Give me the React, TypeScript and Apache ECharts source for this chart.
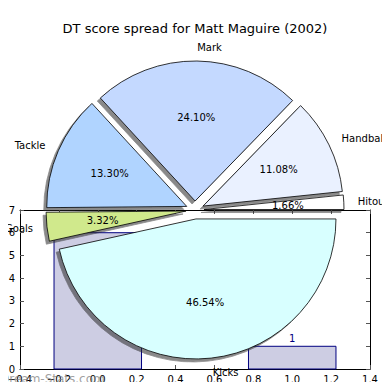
import React, { useEffect, useRef } from "react";
import * as echarts from "echarts";

const titleText = "DT score spread for Matt Maguire (2002)";
const categories = ["Kicks", "Goals", "Tackle", "Mark", "Handballs", "Hitout"];
const percentages = [46.54, 3.32, 13.3, 24.1, 11.08, 1.66];
const sliceColors = ["#d8ffff", "#d0e98c", "#b0d4ff", "#c4d9ff", "#eaf1ff", "#ffffff"];
const barPositions = [0, 1];
const barHeights = [6, 1];
const barHalfWidth = 0.225;
const xMin = -0.4;
const xMax = 1.4;
const xStep = 0.2;
const yMin = 0;
const yMax = 7;
const yStep = 1;

const FONT = "DejaVu Sans";

export default function App() {
  const ref = useRef<HTMLDivElement>(null);
  useEffect(() => {
    if (!ref.current) return;
    const chart = echarts.init(ref.current, undefined, { renderer: "svg" });
    const pieData = categories.map((name, i) => ({
      name,
      value: percentages[i],
      selected: true,
      itemStyle: { color: sliceColors[i] },
    }));
    const tickFmt = (v: number) => (v < 0 ? "\u2212" : "") + Math.abs(v).toFixed(1);
    const axisCommon = {
      axisLine: { show: true, onZero: false, lineStyle: { color: "#000", width: 1 } },
      axisTick: { show: true, inside: true, length: 4, lineStyle: { color: "#555", width: 1 } },
      splitLine: { show: false },
    };
    chart.setOption({
      animation: false,
      textStyle: { fontFamily: FONT },
      title: {
        text: titleText,
        left: "center",
        top: 17,
        textStyle: { fontSize: 13, fontWeight: "normal", color: "#000", fontFamily: FONT },
      },
      grid: { left: 20, right: 20, top: 210, bottom: 21, containLabel: false },
      xAxis: [
        {
          type: "value",
          min: xMin,
          max: xMax,
          interval: xStep,
          position: "bottom",
          ...axisCommon,
          axisLabel: { show: true, margin: 5, fontSize: 10, color: "#000", fontFamily: FONT, formatter: tickFmt },
        },
        {
          type: "value",
          min: xMin,
          max: xMax,
          interval: xStep,
          position: "top",
          ...axisCommon,
          axisLabel: { show: false },
        },
      ],
      yAxis: [
        {
          type: "value",
          min: yMin,
          max: yMax,
          interval: yStep,
          position: "left",
          ...axisCommon,
          axisLabel: { show: true, margin: 5, fontSize: 10, color: "#000", fontFamily: FONT },
        },
        {
          type: "value",
          min: yMin,
          max: yMax,
          interval: yStep,
          position: "right",
          ...axisCommon,
          axisLabel: { show: false },
        },
      ],
      series: [
        {
          type: "custom",
          xAxisIndex: 0,
          yAxisIndex: 0,
          z: 1,
          data: barPositions.map((x, i) => [x, barHeights[i]]),
          renderItem: (params: any, api: any) => {
            const x = api.value(0);
            const h = api.value(1);
            const p1 = api.coord([x - barHalfWidth, h]);
            const p2 = api.coord([x + barHalfWidth, 0]);
            return {
              type: "rect",
              shape: { x: p1[0], y: p1[1], width: p2[0] - p1[0], height: p2[1] - p1[1] },
              style: { fill: "#cdcde3", stroke: "#000080", lineWidth: 1 },
              textContent: {
                style: { text: String(h), fill: "#000080", fontSize: 10, fontFamily: FONT },
              },
              textConfig: { position: "top", distance: 2 },
            };
          },
        },
        {
          type: "pie",
          z: 5,
          center: [195, 210],
          radius: [0, 140],
          startAngle: 0,
          clockwise: true,
          selectedMode: "multiple",
          selectedOffset: 9,
          avoidLabelOverlap: false,
          silent: true,
          data: pieData,
          itemStyle: {
            borderColor: "#000",
            borderWidth: 0.8,
            shadowColor: "rgba(40,40,40,0.55)",
            shadowBlur: 1,
            shadowOffsetX: -3,
            shadowOffsetY: 3,
          },
          select: { itemStyle: { borderColor: "#000", borderWidth: 0.8 } },
          label: {
            show: true,
            position: "outside",
            formatter: "{b}",
            fontSize: 10,
            color: "#000",
            fontFamily: FONT,
            distanceToLabelLine: 0,
          },
          labelLine: { show: false, length: 14, length2: 0 },
        },
        {
          type: "pie",
          z: 6,
          center: [195, 210],
          radius: [71, 91],
          startAngle: 0,
          clockwise: true,
          selectedMode: "multiple",
          selectedOffset: 9,
          avoidLabelOverlap: false,
          silent: true,
          data: categories.map((name, i) => ({ name, value: percentages[i], selected: true })),
          itemStyle: { color: "rgba(0,0,0,0)", borderWidth: 0 },
          select: { itemStyle: { color: "rgba(0,0,0,0)", borderWidth: 0 } },
          label: {
            show: true,
            position: "inside",
            formatter: (p: any) => p.value.toFixed(2) + "%",
            fontSize: 10,
            color: "#000",
            fontFamily: FONT,
          },
          labelLine: { show: false },
        },
      ],
      graphic: [
        {
          type: "text",
          z: 100,
          left: 0,
          top: 373,
          style: {
            text: "Dream-Stats.com",
            fill: "rgba(130,130,130,0.75)",
            fontSize: 12,
            fontFamily: FONT,
          },
        },
      ],
    });
    return () => chart.dispose();
  }, []);
  return <div ref={ref} style={{ width: 390, height: 390, margin: -8 }} />;
}
